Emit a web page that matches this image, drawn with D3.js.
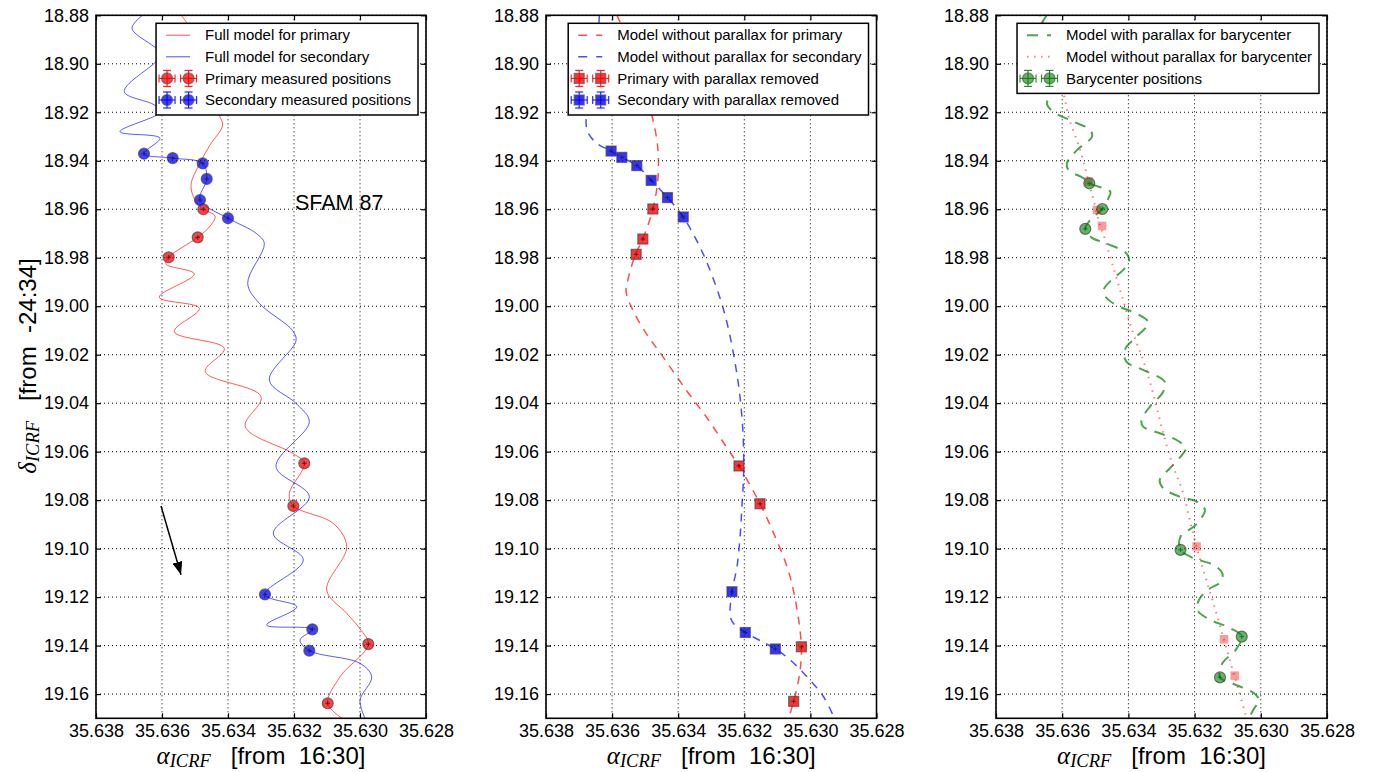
<!DOCTYPE html>
<html><head><meta charset="utf-8">
<script src="https://cdn.jsdelivr.net/npm/d3@7"></script>
<style>
html,body{margin:0;padding:0;background:#fff;}
svg{display:block;}
text{font-family:"Liberation Sans",Arial,sans-serif;}
</style></head><body>
<svg id="chart" width="1382" height="772"></svg>
<script>
// ---------------- data ----------------
const xDomain = [35.638, 35.628];
const yDomain = [18.88, 19.17];
const xTicks = [35.638, 35.636, 35.634, 35.632, 35.630, 35.628];
const yTicks = [18.88, 18.90, 18.92, 18.94, 18.96, 18.98, 19.00, 19.02, 19.04, 19.06, 19.08, 19.10, 19.12, 19.14, 19.16];
const errA = 0.00007, errD = 0.0009;

// Panel 1: full models and measured positions
const p1PrimModel = [[35.635424,18.8799],[35.635273,18.8826],[35.634848,18.8923],[35.634424,18.9067],[35.634264,18.9211],[35.634161,18.9253],[35.634545,18.9335],[35.634848,18.9409],[35.635121,18.9500],[35.635000,18.9562],[35.634748,18.9600],[35.634394,18.9628],[35.634515,18.9665],[35.634918,18.9716],[35.635797,18.9798],[35.635879,18.9826],[35.635021,18.9867],[35.636082,18.9963],[35.634870,19.0009],[35.635627,19.0105],[35.634112,19.0174],[35.634688,19.0270],[35.633000,19.0373],[35.633476,19.0497],[35.632039,19.0607],[35.631688,19.0648],[35.632142,19.0772],[35.632021,19.0824],[35.630809,19.0896],[35.630403,19.0992],[35.631009,19.1171],[35.630403,19.1267],[35.630000,19.1331],[35.629748,19.1394],[35.630606,19.1529],[35.630979,19.1638],[35.630555,19.1699]];
const p1SecModel = [[35.636585,18.8799],[35.636909,18.8854],[35.636233,18.8930],[35.635970,18.8964],[35.636233,18.8998],[35.637142,18.9115],[35.636233,18.9170],[35.636061,18.9199],[35.637273,18.9280],[35.636061,18.9307],[35.636545,18.9371],[35.635676,18.9389],[35.634767,18.9411],[35.634645,18.9475],[35.634848,18.9562],[35.634000,18.9637],[35.633152,18.9699],[35.632900,18.9741],[35.633403,18.9906],[35.633052,18.9988],[35.632039,19.0101],[35.631939,19.0143],[35.632748,19.0305],[35.631939,19.0401],[35.631536,19.0477],[35.632545,19.0662],[35.631536,19.0786],[35.632627,19.0937],[35.631718,19.1047],[35.632879,19.1189],[35.631918,19.1240],[35.632827,19.1315],[35.631445,19.1333],[35.631818,19.1377],[35.631536,19.1421],[35.630000,19.1473],[35.629645,19.1529],[35.630000,19.1626],[35.629848,19.1699]];
const p1PrimPts = [[35.634748,18.9600],[35.634918,18.9716],[35.635797,18.9798],[35.631688,19.0648],[35.632021,19.0824],[35.629748,19.1394],[35.630979,19.1638]];
const p1SecPts = [[35.636545,18.9371],[35.635676,18.9389],[35.634767,18.9411],[35.634645,18.9475],[35.634848,18.9562],[35.634000,18.9637],[35.632879,19.1189],[35.631445,19.1333],[35.631536,19.1421]];
const p1Arrow = [[35.636030,19.0824],[35.635424,19.1108]];
const p1Label = {text: "SFAM 87", a: 35.631970, d: 18.9603};

// Panel 2: models without parallax, positions with parallax removed
const p2PrimModel = [[35.635858,18.8799],[35.635515,18.8902],[35.635091,18.9046],[35.634797,18.9211],[35.634645,18.9314],[35.634597,18.9397],[35.634627,18.9493],[35.634767,18.9599],[35.635070,18.9723],[35.635294,18.9786],[35.635524,18.9892],[35.635576,18.9940],[35.635373,19.0016],[35.634970,19.0112],[35.634464,19.0208],[35.633758,19.0346],[35.633152,19.0456],[35.632545,19.0580],[35.632161,19.0659],[35.631524,19.0815],[35.631112,19.0937],[35.630706,19.1075],[35.630455,19.1212],[35.630273,19.1405],[35.630324,19.1515],[35.630506,19.1630],[35.630658,19.1699]];
const p2SecModel = [[35.636385,18.8799],[35.636485,18.8984],[35.636697,18.9149],[35.636788,18.9246],[35.636718,18.9287],[35.636464,18.9328],[35.636030,18.9360],[35.635706,18.9386],[35.635252,18.9420],[35.634818,18.9481],[35.634324,18.9552],[35.633848,18.9632],[35.633252,18.9782],[35.632748,18.9961],[35.632494,19.0085],[35.632294,19.0222],[35.632142,19.0360],[35.632039,19.0524],[35.632021,19.0690],[35.632070,19.0820],[35.632121,19.0937],[35.632221,19.1075],[35.632373,19.1178],[35.632424,19.1281],[35.632324,19.1309],[35.631970,19.1346],[35.631061,19.1414],[35.630606,19.1460],[35.630100,19.1529],[35.629597,19.1612],[35.629294,19.1694]];
const p2PrimPts = [[35.634767,18.9599],[35.635070,18.9723],[35.635273,18.9786],[35.632161,19.0659],[35.631524,19.0815],[35.630273,19.1405],[35.630506,19.1630]];
const p2SecPts = [[35.636030,18.9360],[35.635706,18.9386],[35.635252,18.9420],[35.634818,18.9481],[35.634324,18.9552],[35.633848,18.9632],[35.632373,19.1178],[35.631970,19.1346],[35.631061,19.1414]];

// Panel 3: barycenter
const p3BaryModel = [[35.636464,18.8799],[35.636615,18.8833],[35.636909,18.8923],[35.636515,18.9026],[35.636312,18.9122],[35.636464,18.9163],[35.636264,18.9198],[35.635658,18.9239],[35.635152,18.9273],[35.635100,18.9301],[35.635555,18.9356],[35.635858,18.9411],[35.635809,18.9438],[35.635355,18.9472],[35.635182,18.9493],[35.634545,18.9528],[35.634597,18.9552],[35.634788,18.9599],[35.635152,18.9644],[35.635303,18.9681],[35.635121,18.9716],[35.634667,18.9741],[35.634061,18.9782],[35.633979,18.9816],[35.634161,18.9851],[35.634515,18.9892],[35.634748,18.9933],[35.634688,18.9961],[35.634364,18.9996],[35.633758,19.0030],[35.633403,19.0064],[35.633455,19.0085],[35.633758,19.0126],[35.634112,19.0181],[35.634061,19.0229],[35.633555,19.0263],[35.632900,19.0312],[35.632948,19.0353],[35.633355,19.0415],[35.633606,19.0470],[35.633555,19.0497],[35.633052,19.0524],[35.632545,19.0552],[35.632264,19.0586],[35.632342,19.0607],[35.632697,19.0662],[35.633052,19.0717],[35.632948,19.0751],[35.632445,19.0786],[35.631939,19.0806],[35.631688,19.0840],[35.631839,19.0882],[35.632021,19.0909],[35.632424,19.0950],[35.632424,19.1005],[35.632021,19.1040],[35.631415,19.1068],[35.631161,19.1102],[35.631212,19.1137],[35.631615,19.1171],[35.631870,19.1212],[35.631918,19.1253],[35.631615,19.1288],[35.630909,19.1329],[35.630576,19.1363],[35.630758,19.1418],[35.631161,19.1473],[35.631233,19.1531],[35.630858,19.1556],[35.630203,19.1597],[35.630052,19.1625],[35.630203,19.1660],[35.630364,19.1699]];
const p3BaryNoPlx = [[35.636667,18.8799],[35.635961,18.9122],[35.635809,18.9218],[35.635455,18.9356],[35.635203,18.9486],[35.635052,18.9562],[35.634848,18.9672],[35.634767,18.9699],[35.634464,18.9836],[35.634161,18.9974],[35.633858,19.0112],[35.633555,19.0222],[35.633252,19.0360],[35.632948,19.0524],[35.632645,19.0662],[35.632342,19.0772],[35.632121,19.0896],[35.631918,19.1005],[35.631615,19.1143],[35.631312,19.1281],[35.630909,19.1473],[35.630658,19.1590],[35.630455,19.1687]];
const p3BaryPts = [[35.635182,18.9493],[35.634788,18.9599],[35.635303,18.9681],[35.632424,19.1005],[35.630576,19.1363],[35.631233,19.1531]];
const p3NoPlxPts = [[35.635203,18.9486],[35.634948,18.9603],[35.634797,18.9669],[35.631939,19.0991],[35.631112,19.1374],[35.630788,19.1524]];

const yLabel = ["\u03b4", "ICRF", "   [from  -24:34]"];
const xLabel = ["\u03b1", "ICRF", "   [from  16:30]"];

// ---------------- layout ----------------
const TOP = 15.3, BOTTOM = 718.3;
const panelsX = [[96, 426], [546, 876.5], [996, 1327]];
const svg = d3.select("#chart");
const defs = svg.append("defs");
defs.append("marker").attr("id", "arrowhead").attr("viewBox", "0 0 13 10")
  .attr("refX", 13).attr("refY", 5).attr("markerWidth", 13).attr("markerHeight", 10)
  .attr("markerUnits", "userSpaceOnUse").attr("orient", "auto")
  .append("path").attr("d", "M0,0L13,5L0,10Z").attr("fill", "#000");

function panel(idx) {
  const [L, R] = panelsX[idx];
  const x = d3.scaleLinear().domain(xDomain).range([L, R]);
  const y = d3.scaleLinear().domain(yDomain).range([TOP, BOTTOM]);
  defs.append("clipPath").attr("id", "clip" + idx).append("rect")
    .attr("x", L).attr("y", TOP).attr("width", R - L).attr("height", BOTTOM - TOP);
  const g = svg.append("g");
  const grid = g.append("g").attr("stroke", "#000").attr("stroke-width", 1).attr("stroke-dasharray", "1,3");
  grid.selectAll("line.gx").data(xTicks).join("line").attr("class", "gx")
    .attr("x1", d => x(d)).attr("x2", d => x(d)).attr("y1", TOP).attr("y2", BOTTOM);
  grid.selectAll("line.gy").data(yTicks).join("line").attr("class", "gy")
    .attr("x1", L).attr("x2", R).attr("y1", d => y(d)).attr("y2", d => y(d));
  const plot = g.append("g").attr("clip-path", `url(#clip${idx})`);
  return {x, y, g, plot, L, R};
}

function drawLine(p, data, st) {
  p.plot.append("path").datum(data)
    .attr("d", d3.line().x(d => p.x(d[0])).y(d => p.y(d[1])).curve(d3.curveCatmullRom.alpha(0.5)))
    .attr("fill", "none").attr("stroke", st.color).attr("stroke-width", st.width)
    .attr("stroke-opacity", st.opacity).attr("stroke-dasharray", st.dash || null)
    .attr("stroke-linecap", st.cap || "butt");
}

function drawMarkers(p, data, st) {
  const gg = p.plot.append("g");
  const s = st.size;
  if (st.shape === "circle") {
    gg.selectAll("circle").data(data).join("circle")
      .attr("cx", d => p.x(d[0])).attr("cy", d => p.y(d[1])).attr("r", s / 2)
      .attr("fill", st.fill).attr("fill-opacity", st.opacity)
      .attr("stroke", st.edge || "none").attr("stroke-width", 1.2).attr("stroke-opacity", 0.7);
  } else {
    gg.selectAll("rect").data(data).join("rect")
      .attr("x", d => p.x(d[0]) - s / 2).attr("y", d => p.y(d[1]) - s / 2)
      .attr("width", s).attr("height", s)
      .attr("fill", st.fill).attr("fill-opacity", st.opacity)
      .attr("stroke", st.edge || "none").attr("stroke-width", 1.2).attr("stroke-opacity", 0.7);
  }
  if (st.err) {
    const eb = gg.append("g").attr("stroke", st.err).attr("stroke-width", 1).attr("stroke-opacity", 0.8);
    eb.selectAll("line.h").data(data).join("line").attr("class", "h")
      .attr("x1", d => p.x(d[0] - errA)).attr("x2", d => p.x(d[0] + errA))
      .attr("y1", d => p.y(d[1])).attr("y2", d => p.y(d[1]));
    eb.selectAll("line.v").data(data).join("line").attr("class", "v")
      .attr("x1", d => p.x(d[0])).attr("x2", d => p.x(d[0]))
      .attr("y1", d => p.y(d[1] - errD)).attr("y2", d => p.y(d[1] + errD));
  }
}

function axes(p) {
  const ax = svg.append("g");
  ax.append("g").attr("transform", `translate(${p.L},0)`)
    .call(d3.axisLeft(p.y).tickValues(yTicks).tickSize(-5).tickPadding(7).tickFormat(d3.format(".2f")));
  ax.append("g").attr("transform", `translate(${p.R},0)`)
    .call(d3.axisRight(p.y).tickValues(yTicks).tickSize(-5).tickFormat(() => ""));
  ax.append("g").attr("transform", `translate(0,${BOTTOM})`)
    .call(d3.axisBottom(p.x).tickValues(xTicks).tickSize(-5).tickPadding(6).tickFormat(d3.format(".3f")));
  ax.append("g").attr("transform", `translate(0,${TOP})`)
    .call(d3.axisTop(p.x).tickValues(xTicks).tickSize(-5).tickFormat(() => ""));
  ax.selectAll(".domain").remove();
  ax.selectAll(".tick line").attr("stroke", "#000").attr("stroke-width", 1.2);
  ax.selectAll(".tick text").attr("font-size", 18).attr("fill", "#000")
    .attr("font-family", "'Liberation Sans', Arial, sans-serif");
  ax.append("rect").attr("x", p.L).attr("y", TOP).attr("width", p.R - p.L).attr("height", BOTTOM - TOP)
    .attr("fill", "none").attr("stroke", "#000").attr("stroke-width", 1.6);
  // x label
  const t = svg.append("text").attr("x", (p.L + p.R) / 2).attr("y", 764)
    .attr("text-anchor", "middle").style("white-space", "pre");
  mathLabel(t, xLabel);
}

function mathLabel(t, parts) {
  t.append("tspan").attr("font-family", "'Liberation Serif', serif").attr("font-style", "italic")
    .attr("font-size", 25).text(parts[0]);
  t.append("tspan").attr("font-family", "'Liberation Serif', serif").attr("font-style", "italic")
    .attr("font-size", 18.5).attr("dy", 3).text(parts[1]);
  t.append("tspan").attr("font-family", "'Liberation Sans', Arial, sans-serif")
    .attr("font-size", 24).attr("dy", -3).text(parts[2]);
}

function legend(p, rows) {
  const lg = svg.append("g");
  const rect = lg.append("rect").attr("fill", "#fff").attr("stroke", "#000").attr("stroke-width", 1.5);
  const rowH = 21.6, top = TOP + 8;
  const texts = rows.map((r, i) => lg.append("text").attr("y", top + 11.9 + i * rowH)
    .attr("dy", "0.35em").attr("font-size", 15).attr("fill", "#000").text(r.label));
  const maxW = d3.max(texts, t => t.node().getComputedTextLength());
  const w = 49 + maxW + 7, left = p.R - 8 - w;
  texts.forEach(t => t.attr("x", left + 49));
  rect.attr("x", left).attr("y", top).attr("width", w).attr("height", rows.length * rowH + 5.3);
  rows.forEach((r, i) => {
    const cy = top + 11.9 + i * rowH;
    if (r.type === "line") {
      lg.append("line").attr("x1", left + 10).attr("x2", left + 34).attr("y1", cy).attr("y2", cy)
        .attr("stroke", r.color).attr("stroke-width", r.width).attr("stroke-opacity", r.opacity)
        .attr("stroke-dasharray", r.dash || null).attr("stroke-linecap", r.cap || "butt");
    } else {
      [left + 11, left + 32.5].forEach(mx => {
        const e = lg.append("g").attr("stroke", r.color).attr("stroke-width", 1.2).attr("stroke-opacity", 0.85);
        e.append("line").attr("x1", mx - 8).attr("x2", mx + 8).attr("y1", cy).attr("y2", cy);
        e.append("line").attr("x1", mx - 8).attr("x2", mx - 8).attr("y1", cy - 4).attr("y2", cy + 4);
        e.append("line").attr("x1", mx + 8).attr("x2", mx + 8).attr("y1", cy - 4).attr("y2", cy + 4);
        e.append("line").attr("x1", mx).attr("x2", mx).attr("y1", cy - 8).attr("y2", cy + 8);
        e.append("line").attr("x1", mx - 4).attr("x2", mx + 4).attr("y1", cy - 8).attr("y2", cy - 8);
        e.append("line").attr("x1", mx - 4).attr("x2", mx + 4).attr("y1", cy + 8).attr("y2", cy + 8);
        const s = r.size;
        if (r.shape === "circle") {
          lg.append("circle").attr("cx", mx).attr("cy", cy).attr("r", s / 2)
            .attr("fill", r.fill).attr("fill-opacity", r.opacity)
            .attr("stroke", "#555").attr("stroke-width", 1.2).attr("stroke-opacity", 0.7);
        } else {
          lg.append("rect").attr("x", mx - s / 2).attr("y", cy - s / 2).attr("width", s).attr("height", s)
            .attr("fill", r.fill).attr("fill-opacity", r.opacity)
            .attr("stroke", "#555").attr("stroke-width", 1.2).attr("stroke-opacity", 0.7);
        }
      });
    }
  });
}

// ---------------- panel 1 ----------------
const P1 = panel(0);
drawLine(P1, p1PrimModel, {color: "#ff0000", width: 1, opacity: 0.65});
drawLine(P1, p1SecModel, {color: "#0000ff", width: 1, opacity: 0.65});
drawMarkers(P1, p1PrimPts, {shape: "circle", size: 11, fill: "#ff0000", opacity: 0.75, edge: "#444", err: "#222"});
drawMarkers(P1, p1SecPts, {shape: "circle", size: 11, fill: "#0000ff", opacity: 0.75, edge: "#444", err: "#222"});
P1.g.append("line")
  .attr("x1", P1.x(p1Arrow[0][0])).attr("y1", P1.y(p1Arrow[0][1]))
  .attr("x2", P1.x(p1Arrow[1][0])).attr("y2", P1.y(p1Arrow[1][1]))
  .attr("stroke", "#000").attr("stroke-width", 1.5).attr("marker-end", "url(#arrowhead)");
P1.g.append("text").attr("x", P1.x(p1Label.a)).attr("y", P1.y(p1Label.d))
  .attr("font-size", 21.5).attr("fill", "#000").text(p1Label.text);
axes(P1);
legend(P1, [
  {type: "line", label: "Full model for primary", color: "#ff0000", width: 1, opacity: 0.7},
  {type: "line", label: "Full model for secondary", color: "#0000ff", width: 1, opacity: 0.7},
  {type: "marker", label: "Primary measured positions", color: "#ff0000", fill: "#ff0000", opacity: 0.75, shape: "circle", size: 11},
  {type: "marker", label: "Secondary measured positions", color: "#0000ff", fill: "#0000ff", opacity: 0.75, shape: "circle", size: 11}
]);

// ---------------- panel 2 ----------------
const P2 = panel(1);
drawLine(P2, p2PrimModel, {color: "#ff0000", width: 1.5, opacity: 0.7, dash: "8,7"});
drawLine(P2, p2SecModel, {color: "#0000ff", width: 1.5, opacity: 0.7, dash: "8,7"});
drawMarkers(P2, p2PrimPts, {shape: "square", size: 10, fill: "#ff0000", opacity: 0.8, edge: "#444", err: "#222"});
drawMarkers(P2, p2SecPts, {shape: "square", size: 10, fill: "#0000ff", opacity: 0.8, edge: "#444", err: "#222"});
axes(P2);
legend(P2, [
  {type: "line", label: "Model without parallax for primary", color: "#ff0000", width: 1.5, opacity: 0.7, dash: "9,9"},
  {type: "line", label: "Model without parallax for secondary", color: "#0000ff", width: 1.5, opacity: 0.7, dash: "9,9"},
  {type: "marker", label: "Primary with parallax removed", color: "#ff0000", fill: "#ff0000", opacity: 0.8, shape: "square", size: 10},
  {type: "marker", label: "Secondary with parallax removed", color: "#0000ff", fill: "#0000ff", opacity: 0.8, shape: "square", size: 10}
]);

// ---------------- panel 3 ----------------
const P3 = panel(2);
drawLine(P3, p3BaryModel, {color: "#008000", width: 2, opacity: 0.7, dash: "11,8"});
drawLine(P3, p3BaryNoPlx, {color: "#ff0000", width: 2, opacity: 0.5, dash: "1.5,5.5"});
drawMarkers(P3, p3NoPlxPts, {shape: "square", size: 8.5, fill: "#ff0000", opacity: 0.4});
drawMarkers(P3, p3BaryPts, {shape: "circle", size: 11, fill: "#008000", opacity: 0.6, edge: "#444", err: "#063"});
axes(P3);
legend(P3, [
  {type: "line", label: "Model with parallax for barycenter", color: "#008000", width: 2, opacity: 0.7, dash: "11,9"},
  {type: "line", label: "Model without parallax for barycenter", color: "#ff0000", width: 2, opacity: 0.5, dash: "1.5,5.5"},
  {type: "marker", label: "Barycenter positions", color: "#008000", fill: "#008000", opacity: 0.6, shape: "circle", size: 11}
]);

// y label
const yl = svg.append("text").attr("transform", "translate(36,366) rotate(-90)")
  .attr("text-anchor", "middle").style("white-space", "pre");
mathLabel(yl, yLabel);
</script>
</body></html>
